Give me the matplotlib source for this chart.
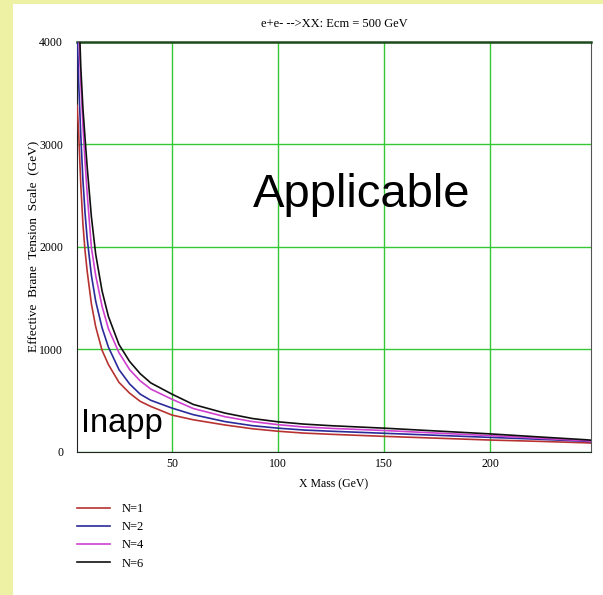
import matplotlib.pyplot as plt
from matplotlib.patches import Rectangle

plt.rcParams["font.family"] = "Liberation Serif"

# X mass (GeV) and effective brane tension scale (GeV)
mass = [5.3, 6, 7, 8, 9, 10, 12, 14, 17, 20, 25, 30, 35, 40, 50, 60, 75, 88,
        100, 112, 125, 150, 175, 200, 225, 245, 248]
scale_n1 = [3380, 3100, 2600, 2220, 1960, 1760, 1440, 1220, 990, 850, 675, 570, 490, 440, 356, 310, 259, 222,
            198, 180, 168, 148, 130, 112, 98, 85, 82]
scale_n2 = [4100, 3600, 3080, 2650, 2330, 2080, 1720, 1470, 1210, 1020, 800, 660, 560, 500, 424, 360, 292, 252,
            228, 210, 198, 178, 158, 138, 118, 100, 95]
scale_n4 = [4700, 4130, 3600, 3180, 2830, 2520, 1990, 1720, 1420, 1200, 965, 800, 690, 610, 510, 420, 340, 292,
            262, 240, 226, 205, 180, 155, 128, 105, 100]
scale_n6 = [5000, 4350, 3750, 3350, 3060, 2780, 2290, 1930, 1570, 1320, 1045, 880, 760, 670, 560, 460, 375, 322,
            290, 268, 252, 228, 200, 172, 140, 115, 110]

labels = ['N=1', 'N=2', 'N=4', 'N=6']
colors = ['#b83232', '#2a2a9a', '#d040d0', '#101010']
xticks = [50, 100, 150, 200]
yticks = [0, 1000, 2000, 3000, 4000]

fig = plt.figure(figsize=(6.03, 5.95), dpi=100, facecolor='#eef0a4')
fig.patches.append(Rectangle((13 / 603, 0), 1, 1 - 4 / 595, transform=fig.transFigure,
                             facecolor='white', edgecolor='none', zorder=-5))

ax = fig.add_axes([77 / 603, 1 - 451.5 / 595, 514 / 603, 409.5 / 595])
ax.set_facecolor('white')

for ys, c, lab in zip([scale_n1, scale_n2, scale_n4, scale_n6], colors, labels):
    ax.plot(mass, ys, color=c, lw=1.2, label=lab, zorder=3)

ax.set_xlim(5.2, 247.6)
ax.set_ylim(0, 4000)
ax.set_xticks(xticks)
ax.set_yticks(yticks)
ax.tick_params(length=0, labelsize=8.5)
ax.tick_params(axis='y', pad=10)
ax.tick_params(axis='x', pad=5)
ax.grid(True, color='#35c835', lw=1)

for s in ['left', 'bottom']:
    ax.spines[s].set_color('#222222')
ax.spines['right'].set_color('#555555')
ax.spines['top'].set_color('#1e4a1e')
ax.spines['top'].set_linewidth(1.8)

ax.set_title('e+e- -->XX: Ecm = 500 GeV', fontsize=9, pad=11)
ax.set_xlabel('X Mass (GeV)', fontsize=8.5, labelpad=6)
ax.set_ylabel('Effective  Brane  Tension  Scale  (GeV)', fontsize=9.5, labelpad=0)

ax.text(88, 2390, 'Applicable', fontsize=34, family='Liberation Sans', zorder=4)
ax.text(7.3, 190, 'Inapp', fontsize=23.5, family='Liberation Sans', zorder=4)

fig.legend(loc='upper left', bbox_to_anchor=(77 / 603, 1 - 503 / 595), frameon=False,
           fontsize=9, handlelength=2.6, handletextpad=1.0, labelspacing=0.5,
           borderpad=0, borderaxespad=0)

fig.savefig('out.png', dpi=100, facecolor=fig.get_facecolor())
